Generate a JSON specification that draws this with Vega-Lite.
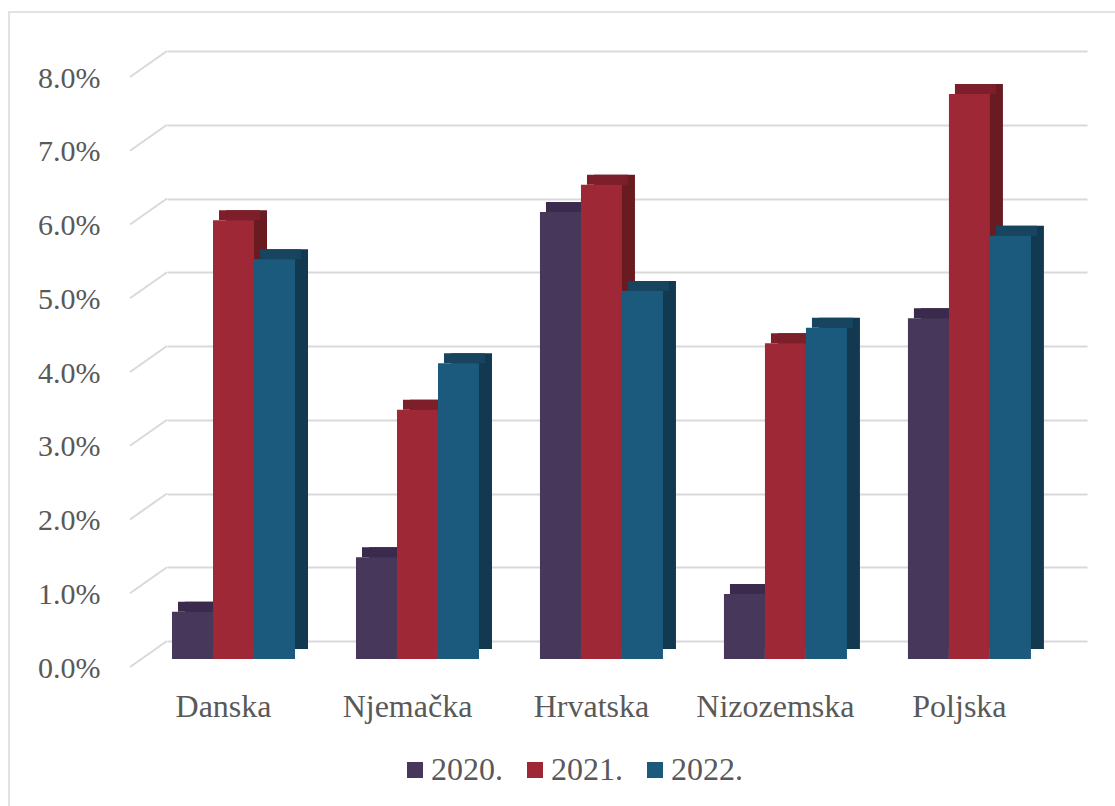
{
  "$schema": "https://vega.github.io/schema/vega-lite/v6.json",
  "autosize": {"type": "none"},
  "padding": {"left": 167, "top": 51, "right": 28, "bottom": 165},
  "width": 920,
  "height": 590,
  "background": "#ffffff",
  "config": {
    "view": {"stroke": null},
    "font": "Liberation Serif",
    "axis": {"labelFont": "Liberation Serif", "labelColor": "#595959", "labelFontSize": 30},
    "legend": {"labelFont": "Liberation Serif", "labelColor": "#595959", "labelFontSize": 32}
  },
  "datasets": {
    "bars": [
      {"country": "Danska", "year": "2020.", "value": 0.0064},
      {"country": "Danska", "year": "2021.", "value": 0.0595},
      {"country": "Danska", "year": "2022.", "value": 0.0542},
      {"country": "Njemačka", "year": "2020.", "value": 0.0138},
      {"country": "Njemačka", "year": "2021.", "value": 0.0338},
      {"country": "Njemačka", "year": "2022.", "value": 0.0401},
      {"country": "Hrvatska", "year": "2020.", "value": 0.0606},
      {"country": "Hrvatska", "year": "2021.", "value": 0.0643},
      {"country": "Hrvatska", "year": "2022.", "value": 0.0499},
      {"country": "Nizozemska", "year": "2020.", "value": 0.0088},
      {"country": "Nizozemska", "year": "2021.", "value": 0.0428},
      {"country": "Nizozemska", "year": "2022.", "value": 0.0449},
      {"country": "Poljska", "year": "2020.", "value": 0.0462},
      {"country": "Poljska", "year": "2021.", "value": 0.0766},
      {"country": "Poljska", "year": "2022.", "value": 0.0574}
    ],
    "ticks": [
      {"t": 0}, {"t": 0.01}, {"t": 0.02}, {"t": 0.03}, {"t": 0.04},
      {"t": 0.05}, {"t": 0.06}, {"t": 0.07}, {"t": 0.08}
    ]
  },
  "layer": [
    {
      "data": {"values": [{}]},
      "mark": {"type": "rect", "fill": null, "stroke": "#d9d9d9", "strokeWidth": 1.5},
      "encoding": {
        "x": {"value": -158},
        "x2": {"value": 960},
        "y": {"value": -39},
        "y2": {"value": 770}
      }
    },
    {
      "data": {"name": "ticks"},
      "mark": {"type": "rule", "color": "#d9d9d9", "strokeWidth": 2, "yOffset": 26, "y2Offset": 0},
      "encoding": {
        "x": {"value": -37},
        "x2": {"value": 0},
        "y": {"field": "t", "type": "quantitative", "scale": {"domain": [0, 0.08]}},
        "y2": {"field": "t"}
      }
    },
    {
      "data": {"name": "bars"},
      "mark": {"type": "bar", "yOffset": 8, "y2Offset": 8},
      "encoding": {
        "x": {"field": "country", "type": "nominal", "sort": null,
              "scale": {"paddingInner": 0.3315, "paddingOuter": 0.166, "align": 0.082}},
        "xOffset": {"field": "year", "type": "nominal", "scale": {"paddingInner": 0, "paddingOuter": 0, "range": [13, 136]}},
        "y": {"field": "value", "type": "quantitative", "scale": {"domain": [0, 0.08]}},
        "y2": {"datum": 0},
        "color": {"field": "year", "type": "nominal",
                  "scale": {"domain": ["2020.", "2021.", "2022."], "range": ["#302340", "#6a1b22", "#133950"]},
                  "legend": null}
      }
    },
    {
      "data": {"name": "bars"},
      "mark": {"type": "bar", "yOffset": 8, "y2Offset": 18},
      "encoding": {
        "x": {"field": "country", "type": "nominal", "sort": null,
              "scale": {"paddingInner": 0.3315, "paddingOuter": 0.166, "align": 0.082}},
        "xOffset": {"field": "year", "type": "nominal", "scale": {"paddingInner": 0, "paddingOuter": 0, "range": [6, 129]}},
        "y": {"field": "value", "type": "quantitative", "scale": {"domain": [0, 0.08]}},
        "y2": {"field": "value"},
        "color": {"field": "year", "type": "nominal",
                  "scale": {"domain": ["2020.", "2021.", "2022."], "range": ["#3a2a4b", "#7c1f2a", "#17445f"]},
                  "legend": null}
      }
    },
    {
      "data": {"name": "bars"},
      "mark": {"type": "bar", "yOffset": 18, "y2Offset": 18},
      "encoding": {
        "x": {"field": "country", "type": "nominal", "sort": null,
              "scale": {"paddingInner": 0.3315, "paddingOuter": 0.166, "align": 0.082},
              "axis": {"title": null, "domain": false, "ticks": false, "tickSize": 0, "grid": false,
                       "labelAngle": 0, "labelAlign": "center", "labelPadding": 75, "labelBaseline": "alphabetic", "labelOffset": -10,
                       "labelFontSize": 32}},
        "xOffset": {"field": "year", "type": "nominal", "scale": {"paddingInner": 0, "paddingOuter": 0, "range": [0, 123]}},
        "y": {"field": "value", "type": "quantitative", "scale": {"domain": [0, 0.08]},
              "axis": {"title": null, "domain": false, "ticks": false, "tickSize": 0, "grid": true,
                       "gridColor": "#d9d9d9", "gridWidth": 2,
                       "values": [0, 0.01, 0.02, 0.03, 0.04, 0.05, 0.06, 0.07, 0.08],
                       "format": ".1%", "labelPadding": 67, "labelOffset": 27}},
        "y2": {"datum": 0},
        "color": {"field": "year", "type": "nominal",
                  "scale": {"domain": ["2020.", "2021.", "2022."], "range": ["#47375a", "#9e2835", "#1b5a7c"]},
                  "legend": {"title": null, "orient": "none", "legendX": 232, "legendY": 703,
                             "direction": "horizontal", "symbolType": "square", "symbolSize": 256,
                             "symbolStrokeWidth": 0, "labelOffset": 0, "columnPadding": 16, "padding": 0}}
      }
    }
  ],
  "resolve": {"scale": {"color": "independent", "xOffset": "independent"}}
}
